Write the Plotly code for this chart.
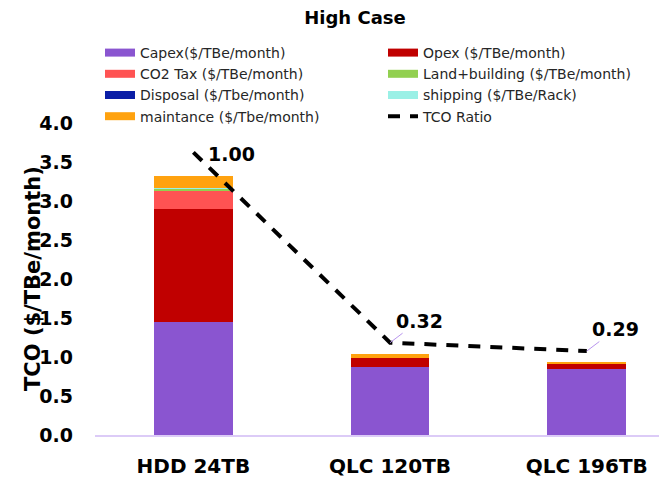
import plotly.graph_objects as go

# Storage TCO breakdown, high-cost scenario
categories = ["HDD 24TB", "QLC 120TB", "QLC 196TB"]
capex = [1.45, 0.875, 0.84]
opex = [1.45, 0.108, 0.068]
co2_tax = [0.23, 0.0, 0.0]
land_building = [0.028, 0.0, 0.0]
disposal = [0.004, 0.0, 0.0]
shipping = [0.004, 0.0, 0.0]
maintenance = [0.155, 0.055, 0.03]
tco_ratio = [1.00, 0.32, 0.29]

series_names = [
    "Capex($/TBe/month)",
    "Opex ($/TBe/month)",
    "CO2 Tax ($/TBe/month)",
    "Land+building ($/TBe/month)",
    "Disposal ($/Tbe/month)",
    "shipping ($/TBe/Rack)",
    "maintance ($/Tbe/month)",
]
series_values = [capex, opex, co2_tax, land_building, disposal, shipping, maintenance]
series_colors = ["#8a55d0", "#c00000", "#ff5353", "#92d050", "#0a1ea6", "#9af0e6", "#ffa20f"]

FONT = "DejaVu Sans"
fig = go.Figure()

for name, vals, col in zip(series_names, series_values, series_colors):
    fig.add_trace(go.Bar(
        x=categories, y=vals, name=name, marker=dict(color=col, line=dict(width=0)),
        width=0.40, showlegend=False,
    ))

# legend swatches drawn as thick line keys
for name, col in zip(series_names, series_colors):
    fig.add_trace(go.Scatter(
        x=[None], y=[None], mode="lines", name=name,
        line=dict(color=col, width=8), showlegend=True,
    ))

fig.add_trace(go.Scatter(
    x=categories, y=tco_ratio, name="TCO Ratio", yaxis="y2", mode="lines",
    line=dict(color="black", width=4, dash="12px,10px"),
))

label_font = dict(family=FONT, size=19, color="black")
fig.add_annotation(x=categories[0], y=tco_ratio[0], yref="y2", text="<b>%.2f</b>" % tco_ratio[0],
                   showarrow=False, xshift=38, yshift=-2, font=label_font)
for i, (ax, ay) in zip([1, 2], [(29, -22), (29, -22)]):
    fig.add_annotation(x=categories[i], y=tco_ratio[i], yref="y2", text="<b>%.2f</b>" % tco_ratio[i],
                       showarrow=True, arrowhead=0, arrowwidth=1, arrowcolor="#b996ee",
                       ax=ax, ay=ay, font=label_font)

fig.add_annotation(xref="paper", yref="paper", x=(33 - 95) / 564, y=0.5,
                   xanchor="center", yanchor="middle",
                   text="<b>TCO ($/TBe/month)</b>", textangle=-90, showarrow=False,
                   font=dict(family=FONT, size=21, color="black"))

fig.update_layout(
    width=659, height=478,
    margin=dict(l=95, r=0, t=123, b=43, autoexpand=False),
    paper_bgcolor="white", plot_bgcolor="white",
    barmode="stack",
    title=dict(text="<b>High Case</b>", x=355 / 659, xref="container", xanchor="center",
               y=1 - 18 / 478, yref="container", yanchor="middle",
               font=dict(family=FONT, size=18, color="black")),
    xaxis=dict(range=[-0.5, 2.367], showline=True, linecolor="#dccbf7", linewidth=1.5,
               ticks="", showgrid=False, zeroline=False,
               tickfont=dict(family=FONT, size=20, color="black"), ticklabelstandoff=12),
    yaxis=dict(range=[0, 4], dtick=0.5, tickformat=".1f", showgrid=False, zeroline=False,
               showline=False, ticks="", tickfont=dict(family=FONT, size=19, color="black"),
               ticklabelstandoff=21, tickprefix="<b>", ticksuffix="</b>"),
    yaxis2=dict(range=[-0.01, 1.105], overlaying="y", side="right", visible=False),
    legend=dict(orientation="h", x=100 / 659, xref="container", xanchor="left",
                y=1 - 37 / 478, yref="container", yanchor="top",
                entrywidth=238, entrywidthmode="pixels",
                font=dict(family=FONT, size=14, color="#262626"),
                bgcolor="rgba(0,0,0,0)", traceorder="normal"),
    font=dict(family=FONT),
)
fig.update_xaxes(tickprefix="<b>", ticksuffix="</b>")

fig.write_html("out.html")
